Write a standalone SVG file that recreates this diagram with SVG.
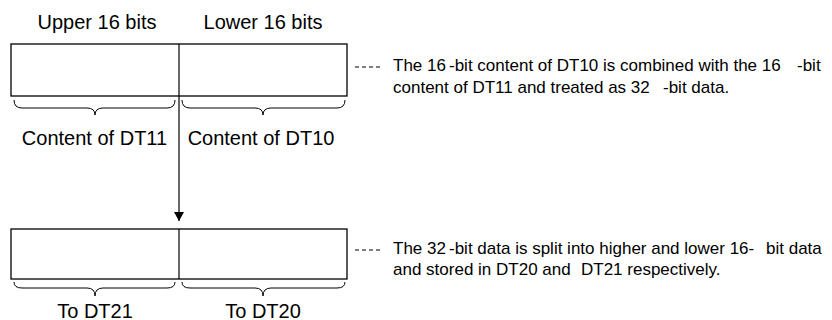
<svg xmlns="http://www.w3.org/2000/svg" width="832" height="320" viewBox="0 0 832 320">
<style>
  .box{fill:#fff;stroke:#000;stroke-width:1.3}
  .ln{fill:none;stroke:#000;stroke-width:1.2}
  .br{fill:none;stroke:#000;stroke-width:1}
  .dash{stroke:#000;stroke-width:1;stroke-dasharray:4 3}
  .lbl{font-family:"Liberation Sans",Arial,sans-serif;font-size:20px;fill:#000;text-anchor:middle}
  .note{font-family:"Liberation Sans",Arial,sans-serif;font-size:17px;fill:#000}
</style>
<defs>
  <marker id="ah" markerWidth="10" markerHeight="10" refX="9" refY="5" orient="auto" markerUnits="userSpaceOnUse">
    <path d="M0,0 L9,5 L0,10 Z" fill="#000"/>
  </marker>
</defs>
<g id="top-register">
  <text class="lbl" x="97" y="29">Upper 16 bits</text>
  <text class="lbl" x="263" y="29">Lower 16 bits</text>
  <rect class="box" x="11" y="44" width="336" height="52"/>
  <line class="ln" x1="179" y1="44" x2="179" y2="96"/>
  <path class="br" d="M14,100 Q14,108 22,108 L87,108 Q95,108 95,115 Q95,108 103,108 L167,108 Q175,108 175,100"/>
  <path class="br" d="M182,100 Q182,108 190,108 L255,108 Q263,108 263,115 Q263,108 271,108 L337,108 Q345,108 345,100"/>
  <text class="lbl" x="94.5" y="145">Content of DT11</text>
  <text class="lbl" x="261" y="145">Content of DT10</text>
</g>
<g id="top-note">
  <line class="dash" x1="355" y1="67" x2="381" y2="67"/>
  <text class="note" y="71"><tspan x="393">The 16</tspan><tspan x="449">-bit content of DT10 is combined with the 16</tspan><tspan x="797">-bit</tspan></text>
  <text class="note" y="93"><tspan x="393">content of DT11 and treated as 32</tspan><tspan x="663">-bit data.</tspan></text>
</g>
<g id="bottom-register">
  <rect class="box" x="11" y="229" width="336" height="50"/>
  <line class="ln" x1="179" y1="229" x2="179" y2="279"/>
  <path class="br" d="M14,282 Q14,288 22,288 L87,288 Q95,288 95,296 Q95,288 103,288 L167,288 Q175,288 175,282"/>
  <path class="br" d="M182,282 Q182,288 190,288 L255,288 Q263,288 263,296 Q263,288 271,288 L337,288 Q345,288 345,282"/>
  <text class="lbl" x="95" y="318">To DT21</text>
  <text class="lbl" x="263" y="318">To DT20</text>
</g>
<g id="bottom-note">
  <line class="dash" x1="355" y1="250" x2="381" y2="250"/>
  <text class="note" y="254"><tspan x="393">The 32</tspan><tspan x="449">-bit data is split into higher and lower 16-</tspan><tspan x="766">bit data</tspan></text>
  <text class="note" y="275"><tspan x="393">and stored in DT20 and</tspan><tspan x="581">DT21 respectively.</tspan></text>
</g>
<g id="connectors">
  <line class="ln" x1="179" y1="96" x2="179" y2="221" marker-end="url(#ah)"/>
</g>
</svg>
